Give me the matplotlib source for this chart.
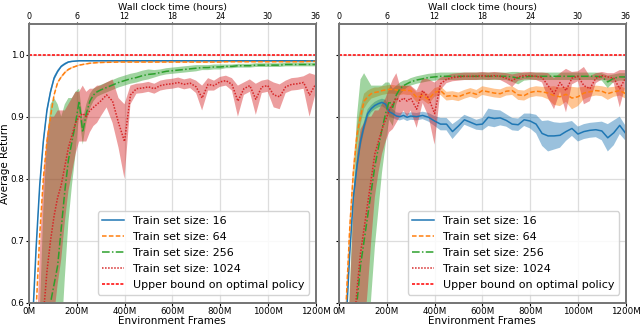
import numpy as np
import matplotlib
matplotlib.use("Agg")
import matplotlib.pyplot as plt

# x grid (millions of environment frames)
frames = [0, 15, 30, 45, 60, 75, 90, 105, 120, 135, 150, 165, 180, 195, 210, 225, 240, 255, 270, 285, 300,
          325, 350, 375, 400, 425, 450, 475, 500, 525, 550, 575, 600, 625, 650, 675, 700, 725, 750, 775,
          800, 825, 850, 875, 900, 925, 950, 975, 1000, 1025, 1050, 1075, 1100, 1125, 1150, 1175, 1200]

labels = ["Train set size: 16", "Train set size: 64", "Train set size: 256", "Train set size: 1024"]
upper_bound = 1.0

# ---------------- left panel ----------------
left_16 = [0.35, 0.57, 0.69, 0.79, 0.86, 0.91, 0.94, 0.962, 0.973, 0.981, 0.985, 0.988, 0.989, 0.9895, 0.990,
           0.990, 0.990, 0.990, 0.990, 0.990, 0.990,
           0.990, 0.990, 0.990, 0.990, 0.990, 0.990, 0.990, 0.990, 0.990, 0.990, 0.990, 0.990, 0.990, 0.990,
           0.990, 0.990, 0.990, 0.990, 0.990, 0.990, 0.990, 0.990, 0.990, 0.990, 0.990, 0.990, 0.990, 0.990,
           0.990, 0.990, 0.990, 0.990, 0.990, 0.990, 0.990, 0.990]
left_16_sd = [0.008, 0.008, 0.008, 0.008, 0.007, 0.006, 0.005, 0.004, 0.003, 0.002, 0.002, 0.0015, 0.001, 0.001, 0.001,
              0.001, 0.001, 0.001, 0.001, 0.001, 0.001,
              0.001, 0.001, 0.001, 0.001, 0.001, 0.001, 0.001, 0.001, 0.001, 0.001, 0.001, 0.001, 0.001, 0.001,
              0.001, 0.001, 0.001, 0.001, 0.001, 0.001, 0.001, 0.001, 0.001, 0.001, 0.001, 0.001, 0.001, 0.001,
              0.001, 0.001, 0.001, 0.001, 0.001, 0.001, 0.001, 0.001]

left_64 = [0.30, 0.45, 0.59, 0.71, 0.80, 0.86, 0.90, 0.935, 0.955, 0.964, 0.971, 0.976, 0.979, 0.981, 0.983,
           0.984, 0.985, 0.986, 0.9865, 0.987, 0.9872,
           0.9875, 0.9877, 0.988, 0.988, 0.988, 0.988, 0.988, 0.988, 0.988, 0.988, 0.988, 0.988, 0.988, 0.988,
           0.988, 0.988, 0.988, 0.988, 0.988, 0.988, 0.9885, 0.9885, 0.9885, 0.9885, 0.9885, 0.9885, 0.9885, 0.9885,
           0.9885, 0.9885, 0.9885, 0.9885, 0.9885, 0.9885, 0.989, 0.989]
left_64_sd = [0.004, 0.004, 0.004, 0.004, 0.004, 0.003, 0.003, 0.003, 0.002, 0.002, 0.002, 0.0015, 0.0015, 0.001, 0.001,
              0.001, 0.001, 0.001, 0.001, 0.001, 0.001,
              0.001, 0.001, 0.001, 0.001, 0.001, 0.001, 0.001, 0.001, 0.001, 0.001, 0.001, 0.001, 0.001, 0.001,
              0.001, 0.001, 0.001, 0.001, 0.001, 0.001, 0.001, 0.001, 0.001, 0.001, 0.001, 0.001, 0.001, 0.001,
              0.001, 0.001, 0.001, 0.001, 0.001, 0.001, 0.001, 0.001]

left_256 = [0.20, 0.25, 0.32, 0.40, 0.50, 0.56, 0.60, 0.63, 0.66, 0.72, 0.78, 0.83, 0.86, 0.89, 0.925,
            0.875, 0.905, 0.925, 0.935, 0.940, 0.943,
            0.947, 0.951, 0.955, 0.958, 0.961, 0.963, 0.966, 0.968, 0.969, 0.971, 0.973, 0.974, 0.975, 0.976,
            0.977, 0.978, 0.979, 0.979, 0.980, 0.980, 0.981, 0.981, 0.982, 0.982, 0.982, 0.983, 0.983, 0.983,
            0.983, 0.983, 0.984, 0.984, 0.984, 0.984, 0.984, 0.984]
left_256_sd = [0.05, 0.08, 0.12, 0.18, 0.25, 0.30, 0.32, 0.30, 0.26, 0.18, 0.14, 0.10, 0.07, 0.05, 0.02,
               0.02, 0.015, 0.012, 0.010, 0.008, 0.008,
               0.008, 0.008, 0.008, 0.008, 0.008, 0.008, 0.008, 0.008, 0.006, 0.005, 0.005, 0.005, 0.005, 0.005,
               0.005, 0.005, 0.004, 0.004, 0.004, 0.004, 0.003, 0.003, 0.003, 0.003, 0.003, 0.003, 0.003, 0.003,
               0.003, 0.003, 0.003, 0.003, 0.003, 0.003, 0.003, 0.003]

left_1024 = [0.20, 0.30, 0.40, 0.50, 0.58, 0.65, 0.70, 0.74, 0.77, 0.79, 0.82, 0.85, 0.87, 0.89, 0.90,
             0.905, 0.900, 0.910, 0.915, 0.920, 0.925,
             0.935, 0.925, 0.890, 0.860, 0.935, 0.945, 0.946, 0.948, 0.945, 0.950, 0.952, 0.953, 0.955, 0.952,
             0.954, 0.948, 0.930, 0.952, 0.950, 0.956, 0.958, 0.952, 0.925, 0.945, 0.950, 0.928, 0.948, 0.950,
             0.935, 0.932, 0.948, 0.952, 0.953, 0.955, 0.935, 0.952]
left_1024_sd = [0.05, 0.08, 0.12, 0.18, 0.22, 0.22, 0.20, 0.16, 0.14, 0.12, 0.09, 0.07, 0.06, 0.05, 0.04,
                0.045, 0.04, 0.035, 0.03, 0.03, 0.025,
                0.02, 0.035, 0.04, 0.06, 0.015, 0.008, 0.008, 0.008, 0.008, 0.008, 0.008, 0.008, 0.008, 0.008,
                0.008, 0.010, 0.020, 0.010, 0.008, 0.008, 0.008, 0.010, 0.025, 0.010, 0.010, 0.025, 0.010, 0.010,
                0.020, 0.020, 0.010, 0.010, 0.010, 0.010, 0.035, 0.015]

# ---------------- right panel ----------------
right_16 = [0.30, 0.42, 0.57, 0.68, 0.77, 0.82, 0.86, 0.885, 0.905, 0.913, 0.918, 0.921, 0.923, 0.920, 0.908,
            0.905, 0.901, 0.900, 0.902, 0.899, 0.901,
            0.900, 0.902, 0.899, 0.893, 0.888, 0.888, 0.876, 0.885, 0.895, 0.891, 0.887, 0.888, 0.899, 0.897,
            0.898, 0.894, 0.888, 0.887, 0.895, 0.893, 0.888, 0.873, 0.869, 0.869, 0.870, 0.876, 0.881, 0.872,
            0.876, 0.878, 0.879, 0.877, 0.866, 0.874, 0.886, 0.873]
right_16_sd = [0.010, 0.010, 0.010, 0.010, 0.010, 0.010, 0.010, 0.008, 0.007, 0.006, 0.006, 0.006, 0.006, 0.007, 0.008,
               0.007, 0.006, 0.006, 0.006, 0.006, 0.006,
               0.006, 0.006, 0.007, 0.008, 0.010, 0.010, 0.012, 0.010, 0.008, 0.008, 0.008, 0.010, 0.014, 0.014,
               0.012, 0.010, 0.010, 0.010, 0.010, 0.012, 0.015, 0.020, 0.025, 0.022, 0.020, 0.015, 0.012, 0.012,
               0.012, 0.012, 0.012, 0.015, 0.022, 0.020, 0.014, 0.012]

right_64 = [0.30, 0.45, 0.60, 0.72, 0.81, 0.87, 0.90, 0.925, 0.932, 0.937, 0.939, 0.940, 0.942, 0.943, 0.944,
            0.944, 0.943, 0.942, 0.943, 0.942, 0.942,
            0.931, 0.934, 0.928, 0.939, 0.942, 0.933, 0.934, 0.932, 0.936, 0.939, 0.936, 0.942, 0.940, 0.938,
            0.937, 0.941, 0.942, 0.935, 0.934, 0.939, 0.941, 0.940, 0.938, 0.934, 0.932, 0.936, 0.930, 0.932,
            0.938, 0.940, 0.942, 0.941, 0.937, 0.940, 0.942, 0.937]
right_64_sd = [0.020, 0.020, 0.020, 0.020, 0.018, 0.016, 0.014, 0.012, 0.010, 0.008, 0.008, 0.007, 0.007, 0.007, 0.007,
               0.007, 0.007, 0.007, 0.007, 0.007, 0.007,
               0.008, 0.007, 0.008, 0.007, 0.007, 0.007, 0.007, 0.007, 0.007, 0.007, 0.007, 0.007, 0.007, 0.007,
               0.007, 0.007, 0.007, 0.008, 0.008, 0.008, 0.008, 0.008, 0.010, 0.015, 0.015, 0.012, 0.018, 0.015,
               0.010, 0.008, 0.008, 0.008, 0.010, 0.008, 0.008, 0.008]

right_256 = [0.20, 0.25, 0.32, 0.42, 0.52, 0.60, 0.66, 0.70, 0.74, 0.78, 0.82, 0.85, 0.88, 0.905, 0.925,
             0.915, 0.935, 0.945, 0.950, 0.953, 0.956,
             0.959, 0.961, 0.963, 0.964, 0.965, 0.965, 0.965, 0.965, 0.965, 0.965, 0.965, 0.965, 0.965, 0.965,
             0.965, 0.965, 0.964, 0.962, 0.964, 0.965, 0.965, 0.965, 0.965, 0.965, 0.965, 0.965, 0.965, 0.965,
             0.965, 0.965, 0.965, 0.964, 0.956, 0.962, 0.964, 0.964]
right_256_sd = [0.05, 0.10, 0.15, 0.20, 0.25, 0.30, 0.30, 0.27, 0.22, 0.17, 0.13, 0.10, 0.07, 0.05, 0.03,
                0.03, 0.015, 0.010, 0.008, 0.006, 0.006,
                0.006, 0.006, 0.006, 0.006, 0.006, 0.006, 0.006, 0.006, 0.006, 0.006, 0.006, 0.006, 0.006, 0.006,
                0.006, 0.006, 0.008, 0.010, 0.006, 0.006, 0.006, 0.006, 0.006, 0.006, 0.006, 0.006, 0.006, 0.006,
                0.006, 0.006, 0.006, 0.006, 0.010, 0.006, 0.006, 0.006]

right_1024 = [0.20, 0.28, 0.36, 0.45, 0.55, 0.62, 0.68, 0.72, 0.76, 0.80, 0.84, 0.86, 0.88, 0.895, 0.910,
              0.920, 0.930, 0.925, 0.930, 0.925, 0.930,
              0.912, 0.942, 0.930, 0.905, 0.953, 0.960, 0.963, 0.964, 0.965, 0.965, 0.965, 0.966, 0.965, 0.966,
              0.965, 0.962, 0.958, 0.964, 0.966, 0.966, 0.965, 0.963, 0.950, 0.937, 0.955, 0.942, 0.962, 0.965,
              0.950, 0.945, 0.962, 0.966, 0.964, 0.962, 0.945, 0.963]
right_1024_sd = [0.05, 0.08, 0.12, 0.16, 0.20, 0.22, 0.20, 0.17, 0.14, 0.10, 0.07, 0.05, 0.04, 0.035, 0.035,
                 0.040, 0.040, 0.025, 0.020, 0.025, 0.020,
                 0.030, 0.020, 0.030, 0.050, 0.010, 0.006, 0.006, 0.006, 0.006, 0.006, 0.006, 0.006, 0.006, 0.006,
                 0.006, 0.008, 0.010, 0.006, 0.006, 0.006, 0.006, 0.008, 0.020, 0.025, 0.015, 0.035, 0.010, 0.008,
                 0.030, 0.020, 0.008, 0.006, 0.006, 0.008, 0.030, 0.012]

left_series = [(left_16, left_16_sd), (left_64, left_64_sd), (left_256, left_256_sd), (left_1024, left_1024_sd)]
right_series = [(right_16, right_16_sd), (right_64, right_64_sd), (right_256, right_256_sd), (right_1024, right_1024_sd)]

colors = ["#1f77b4", "#ff7f0e", "#2ca02c", "#d62728"]
styles = ["-", (0, (3, 1.5)), (0, (5, 1.5, 1, 1.5)), (0, (1, 1))]

x_ticks = [0, 200, 400, 600, 800, 1000, 1200]
x_tick_labels = ["0M", "200M", "400M", "600M", "800M", "1000M", "1200M"]
hour_ticks = [0, 6, 12, 18, 24, 30, 36]
y_ticks = [0.6, 0.7, 0.8, 0.9, 1.0]

fig = plt.figure(figsize=(6.4, 3.26), dpi=100)
axL = fig.add_axes([29 / 640, 1 - 303 / 326, 286.5 / 640, (303 - 23.5) / 326])
axR = fig.add_axes([339 / 640, 1 - 303 / 326, 286.7 / 640, (303 - 23.5) / 326])

x = np.array(frames, dtype=float)
for ax, series, show_y in [(axL, left_series, True), (axR, right_series, False)]:
    ax.set_axisbelow(True)
    ax.grid(True, color="#dddddd", lw=0.9)
    for (m, sd), c, ls, lab in zip(series, colors, styles, labels):
        m = np.array(m)
        sd = np.array(sd)
        ax.fill_between(x, m - sd, m + sd, color=c, alpha=0.45, lw=0)
        ax.plot(x, m, color=c, ls=ls, lw=1.1, label=lab)
    ax.axhline(upper_bound, color="red", ls=(0, (2, 1)), lw=1.1, label="Upper bound on optimal policy")
    ax.set_xlim(0, 1200)
    ax.set_ylim(0.6, 1.05)
    ax.set_xticks(x_ticks)
    ax.set_xticklabels(x_tick_labels, fontsize=6.3)
    ax.set_yticks(y_ticks)
    if show_y:
        ax.set_yticklabels(["0.6", "0.7", "0.8", "0.9", "1.0"], fontsize=6.3)
        ax.set_ylabel("Average Return", fontsize=7.5, labelpad=0.5)
    else:
        ax.set_yticklabels([])
    ax.tick_params(length=2, pad=1.2, width=0.8)
    ax.set_xlabel("Environment Frames", fontsize=7.5, labelpad=0)
    for s in ax.spines.values():
        s.set_color("#777777")
        s.set_linewidth(1.4)
    leg = ax.legend(loc="lower right", fontsize=8, handlelength=2.0, borderpad=0.4,
                    labelspacing=0.55, framealpha=0.85, bbox_to_anchor=(0.997, 0.01))
    leg.get_frame().set_edgecolor("#cccccc")

    top = ax.twiny()
    top.set_xlim(0, 36)
    top.set_xticks(hour_ticks)
    top.set_xticklabels([str(h) for h in hour_ticks], fontsize=5.8)
    top.tick_params(length=1.5, pad=0.3, width=0.8)
    top.set_xlabel("Wall clock time (hours)", fontsize=6.8, labelpad=1.2)
    for s in top.spines.values():
        s.set_color("#777777")
        s.set_linewidth(1.4)

fig.savefig("out.png", dpi=100)
